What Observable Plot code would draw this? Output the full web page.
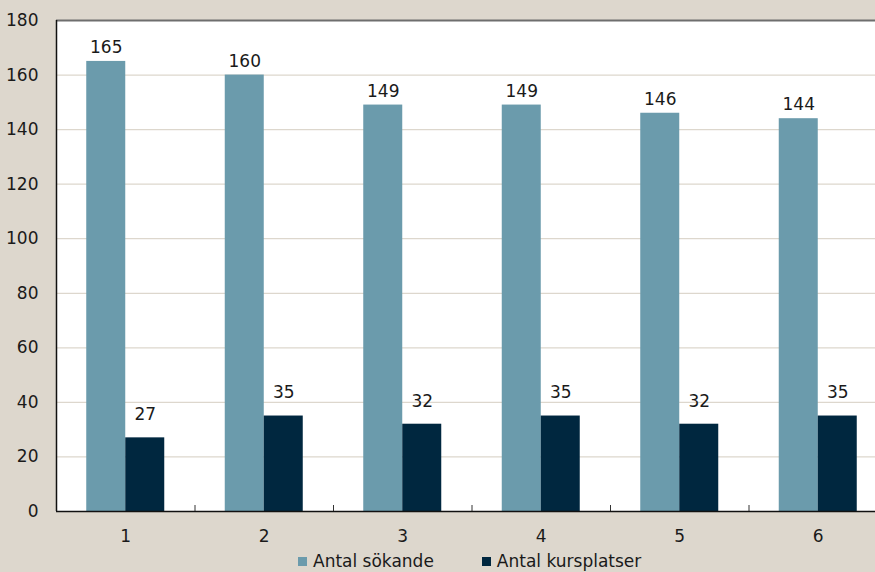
<!DOCTYPE html>
<html>
<head>
<meta charset="utf-8">
<script src="https://cdn.jsdelivr.net/npm/d3@7"></script>
<script src="https://cdn.jsdelivr.net/npm/@observablehq/plot@0.6"></script>
<style>
  html, body { margin: 0; padding: 0; background: #ddd7cd; width: 875px; height: 572px; overflow: hidden; }
  #chart svg { display: block; }
  .legend { display: flex; justify-content: flex-start; font-family: "DejaVu Sans", sans-serif; font-size: 17px; color: #1a1a1a; height: 22px; line-height: 22px; padding-left: 298px; padding-top: 2px; }
  .legend span.item { display: inline-flex; align-items: center; }
  .legend span.item:first-child { margin-right: 48px; }
  .legend span.sw { display: inline-block; width: 9px; height: 9px; margin-right: 6px; }
</style>
</head>
<body>
<div id="chart"></div>
<div class="legend" id="legend"></div>
<script>
const categories = ["1", "2", "3", "4", "5", "6"];
const sokande = [165, 160, 149, 149, 146, 144];
const kursplatser = [27, 35, 32, 35, 32, 35];
const seriesNames = ["Antal sökande", "Antal kursplatser"];
const colors = ["#6b9bac", "#00273f"];
const yTicks = [0, 20, 40, 60, 80, 100, 120, 140, 160, 180];

const rowsA = categories.map((c, i) => ({cat: c, value: sokande[i]}));
const rowsB = categories.map((c, i) => ({cat: c, value: kursplatser[i]}));

const bandW = (887 - 56) / categories.length;
const barW = 39;
const inset = (bandW - barW) / 2;

const chart = Plot.plot({
  width: 875,
  height: 548,
  marginTop: 20,
  marginBottom: 37,
  marginLeft: 56,
  marginRight: 0,
  style: {background: "transparent", fontFamily: "DejaVu Sans, sans-serif", fontSize: "16px", color: "#1a1a1a"},
  x: {domain: categories, range: [56, 887], padding: 0, round: false, label: null},
  y: {domain: [0, 180], range: [511, 20], label: null},
  marks: [
    Plot.frame({fill: "white", stroke: null}),
    Plot.gridY(yTicks.filter(t => t > 0 && t < 180), {stroke: "#ddd7cd", strokeOpacity: 1, strokeWidth: 1.3}),
    Plot.ruleY([180], {stroke: "#6e6e6e", strokeWidth: 2}),
    Plot.barY(rowsA, {x: "cat", y: "value", fill: colors[0], insetLeft: inset, insetRight: inset, dx: -barW / 2}),
    Plot.barY(rowsB, {x: "cat", y: "value", fill: colors[1], insetLeft: inset, insetRight: inset, dx: barW / 2}),
    Plot.text(rowsA, {x: "cat", y: "value", text: d => String(d.value), dx: -barW / 2, dy: -14, fontSize: 17, fill: "#1a1a1a"}),
    Plot.text(rowsB, {x: "cat", y: "value", text: d => String(d.value), dx: barW / 2, dy: -23, fontSize: 17, fill: "#1a1a1a"}),
    Plot.axisY({ticks: yTicks, tickSize: 0, tickPadding: 18, fontSize: 17, label: null}),
    Plot.axisX({tickSize: 0, tickPadding: 18, fontSize: 17, label: null}),
    Plot.axisX({tickSize: -6, tickFormat: () => "", dx: bandW / 2, label: null, stroke: "#333"}),
    Plot.ruleY([0], {stroke: "#111", strokeWidth: 1.5}),
    Plot.ruleX(["1"], {stroke: "#111", strokeWidth: 1.5, dx: -bandW / 2, y1: 0, y2: 180})
  ]
});
document.getElementById("chart").appendChild(chart);

const legend = document.getElementById("legend");
seriesNames.forEach((name, i) => {
  const item = document.createElement("span");
  item.className = "item";
  const sw = document.createElement("span");
  sw.className = "sw";
  sw.style.background = colors[i];
  item.appendChild(sw);
  item.appendChild(document.createTextNode(name));
  legend.appendChild(item);
});
</script>
</body>
</html>
